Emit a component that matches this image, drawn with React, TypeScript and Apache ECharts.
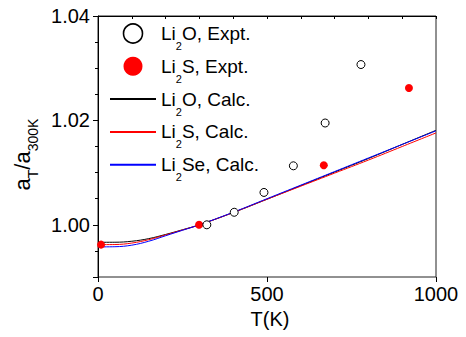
import React, { useEffect, useRef } from 'react';
import * as echarts from 'echarts';

const calcT = [0, 50, 100, 150, 200, 250, 300, 400, 500, 600, 700, 800, 900, 1000];
const li2oCalc = [0.99665, 0.99666, 0.99685, 0.99735, 0.99815, 0.99905, 1.0, 1.00235, 1.0049, 1.0075, 1.0101, 1.0127, 1.0154, 1.0181];
const li2sCalc = [0.9962, 0.99622, 0.9965, 0.99715, 0.99805, 0.999, 1.0, 1.00235, 1.0049, 1.0074, 1.0099, 1.0124, 1.015, 1.0176];
const li2seCalc = [0.99577, 0.9958, 0.9961, 0.99685, 0.9979, 0.99895, 1.0, 1.0024, 1.005, 1.0076, 1.0102, 1.0128, 1.0154, 1.018];

const li2oExptT = [322, 403, 491, 578, 672, 778];
const li2oExpt = [1.0, 1.0024, 1.0062, 1.0113, 1.0195, 1.0307];
const li2sExptT = [9, 299, 668, 920];
const li2sExpt = [0.9962, 1.0, 1.0114, 1.0262];

const yLabels = ['1.00', '1.02', '1.04'];
const xLabels = ['0', '500', '1000'];
const seriesNames = ['Li2O, Expt.', 'Li2S, Expt.', 'Li2O, Calc.', 'Li2S, Calc.', 'Li2Se, Calc.'];

const FONT = '"Liberation Sans", Arial, Helvetica, sans-serif';

const pairs = (xs: number[], ys: number[]) => xs.map((x, i) => [x, ys[i]]);

export default function App() {
  const ref = useRef<HTMLDivElement>(null);
  useEffect(() => {
    if (!ref.current) return;
    const chart = echarts.init(ref.current, undefined, { renderer: 'svg' });
    const yLabelKeys = yLabels.map((l) => Math.round(parseFloat(l) * 1000));
    const xLabelKeys = xLabels.map((l) => Math.round(parseFloat(l)));
    const richLegend = {
      n: { fontSize: 19, fontFamily: FONT, color: '#000', lineHeight: 22 },
      s: { fontSize: 11, fontFamily: FONT, color: '#000', lineHeight: 22, padding: [25, 0, 0, 0] },
    };
    const option: any = {
      animation: false,
      backgroundColor: '#fff',
      textStyle: { fontFamily: FONT },
      grid: {
        left: 98,
        right: 30,
        top: 16,
        bottom: 60,
        outerBoundsMode: 'none',
        containLabel: false,
        show: true,
        borderColor: '#222',
        borderWidth: 1,
        backgroundColor: 'transparent',
      },
      legend: {
        orient: 'vertical',
        left: 104,
        top: 10.5,
        itemWidth: 46,
        itemHeight: 19,
        itemGap: -3.2,
        selectedMode: false,
        data: [
          { name: seriesNames[0], icon: 'circle', itemStyle: { color: '#fff', borderColor: '#000', borderWidth: 1.6 } },
          { name: seriesNames[1], icon: 'circle', itemStyle: { color: '#ff0000', borderWidth: 0 } },
          { name: seriesNames[2], itemStyle: { opacity: 0 } },
          { name: seriesNames[3], itemStyle: { opacity: 0 } },
          { name: seriesNames[4], itemStyle: { opacity: 0 } },
        ],
        formatter: (name: string) => name.replace(/^Li2(.*)$/, '{n|Li}{s|2}{n|$1}'),
        textStyle: { rich: richLegend, fontSize: 19, color: '#000', fontFamily: FONT },
      },
      xAxis: [
        {
          type: 'value',
          min: 0,
          max: 1000,
          interval: 100,
          position: 'bottom',
          name: 'T(K)',
          nameLocation: 'middle',
          nameGap: 31,
          nameTextStyle: { fontSize: 20, color: '#000', fontFamily: FONT, padding: [0, 0, 0, 6] },
          axisLine: { show: true, lineStyle: { color: '#000', width: 1 } },
          axisTick: { show: true, inside: false, length: 3, lineStyle: { color: '#000', width: 1 } },
          axisLabel: {
            show: true,
            margin: 7,
            fontSize: 20,
            color: '#000',
            fontFamily: FONT,
            formatter: (v: number) => (xLabelKeys.includes(Math.round(v)) ? String(Math.round(v)) : ''),
          },
          splitLine: { show: false },
        },
        {
          type: 'value',
          min: 0,
          max: 1000,
          interval: 500,
          position: 'bottom',
          axisLine: { show: false },
          axisTick: { show: true, inside: false, length: 5, lineStyle: { color: '#000', width: 1 } },
          axisLabel: { show: false },
          splitLine: { show: false },
        },
      ],
      yAxis: [
        {
          type: 'value',
          min: 0.99,
          max: 1.04,
          interval: 0.005,
          position: 'left',
          name: '{n|a}{s|T}{n|/a}{s|300K}',
          nameLocation: 'middle',
          nameRotate: 90,
          nameGap: 54,
          nameTextStyle: {
            color: '#000',
            fontFamily: FONT,
            padding: [0, 16, 0, 0],
            rich: {
              n: { fontSize: 22, fontFamily: FONT, color: '#000', lineHeight: 26 },
              s: { fontSize: 14, fontFamily: FONT, color: '#000', lineHeight: 26, padding: [22, 0, 0, 0] },
            },
          },
          axisLine: { show: true, lineStyle: { color: '#000', width: 1 } },
          axisTick: { show: true, inside: false, length: 3, lineStyle: { color: '#000', width: 1 } },
          axisLabel: {
            show: true,
            margin: 8,
            fontSize: 20,
            color: '#000',
            fontFamily: FONT,
            formatter: (v: number) => {
              const k = Math.round(v * 1000);
              const i = yLabelKeys.indexOf(k);
              return i >= 0 ? yLabels[i] : '';
            },
          },
          splitLine: { show: false },
        },
        {
          type: 'value',
          min: 0,
          max: 5,
          interval: 2,
          inverse: true,
          position: 'left',
          axisLine: { show: false },
          axisTick: { show: true, inside: false, length: 5, lineStyle: { color: '#000', width: 1 } },
          axisLabel: { show: false },
          splitLine: { show: false },
        },
      ],
      series: [
        {
          name: seriesNames[2],
          type: 'line',
          data: pairs(calcT, li2oCalc),
          smooth: 0.4,
          symbol: 'none',
          lineStyle: { color: '#000', width: 1 },
          itemStyle: { color: '#000' },
          z: 2,
        },
        {
          name: seriesNames[3],
          type: 'line',
          data: pairs(calcT, li2sCalc),
          smooth: 0.4,
          symbol: 'none',
          lineStyle: { color: '#ff0000', width: 1 },
          itemStyle: { color: '#ff0000' },
          z: 3,
        },
        {
          name: seriesNames[4],
          type: 'line',
          data: pairs(calcT, li2seCalc),
          smooth: 0.4,
          symbol: 'none',
          lineStyle: { color: '#0000ff', width: 1 },
          itemStyle: { color: '#0000ff' },
          z: 4,
        },
        {
          name: seriesNames[0],
          type: 'scatter',
          data: pairs(li2oExptT, li2oExpt),
          symbol: 'circle',
          symbolSize: 8,
          itemStyle: { color: '#fff', borderColor: '#000', borderWidth: 1, opacity: 1 },
          z: 6,
        },
        {
          name: seriesNames[1],
          type: 'scatter',
          data: pairs(li2sExptT, li2sExpt),
          symbol: 'circle',
          symbolSize: 8,
          itemStyle: { color: '#ff0000', borderWidth: 0, opacity: 1 },
          z: 5,
        },
      ],
    };
    chart.setOption(option);
    return () => chart.dispose();
  }, []);
  return <div ref={ref} style={{ position: 'fixed', left: 0, top: 0, width: 466, height: 337 }} />;
}
